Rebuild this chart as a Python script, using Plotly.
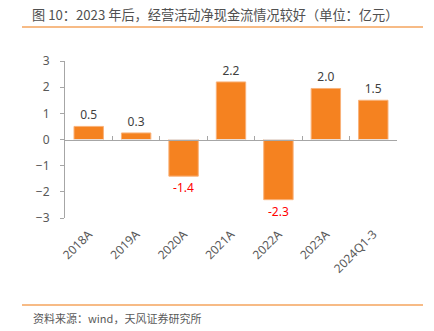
import plotly.graph_objects as go

categories = ["2018A", "2019A", "2020A", "2021A", "2022A", "2023A", "2024Q1-3"]
values = [0.5, 0.25, -1.4, 2.2, -2.3, 1.95, 1.5]
labels = ["0.5", "0.3", "-1.4", "2.2", "-2.3", "2.0", "1.5"]
y_ticks = [-3, -2, -1, 0, 1, 2, 3]

label_colors = ["#FF0000" if v < 0 else "#404040" for v in values]

W, H = 434, 331
L, R, T, B = 65, 37, 61, 113
pw, ph = W - L - R, H - T - B

def px_x(px):
    return (px - L) / pw

def px_y(py):
    return (H - B - py) / ph

fig = go.Figure()
fig.add_trace(go.Bar(
    x=categories, y=values, text=labels, textposition="outside",
    textfont=dict(color=label_colors, size=12, family="Noto Sans"),
    marker=dict(color="#F58220", line=dict(color="#F9B27A", width=1)),
    width=0.62, cliponaxis=False, showlegend=False,
))
# invisible trace to activate the zero-line axis
fig.add_trace(go.Bar(x=categories, y=[0] * len(categories), xaxis="x2",
                     showlegend=False, hoverinfo="skip", marker=dict(color="rgba(0,0,0,0)")))

fig.update_layout(
    width=W, height=H, margin=dict(l=L, r=R, t=T, b=B),
    paper_bgcolor="white", plot_bgcolor="white",
    font=dict(family="Noto Sans CJK SC", color="#595959"),
    title=dict(text="图 10：2023 年后，经营活动净现金流情况较好（单位：亿元）",
               x=32 / W, xanchor="left", y=1 - 15 / H, yanchor="middle",
               font=dict(size=13.2, color="#505050", family="Noto Sans CJK SC")),
    xaxis=dict(type="category", range=[-0.5, 6.5], showline=False, ticks="",
               tickangle=-45, tickfont=dict(size=12, color="#595959", family="Noto Sans"),
               showgrid=False, zeroline=False, ticklabelstandoff=6),
    xaxis2=dict(type="category", range=[-0.5, 6.5], overlaying="x", anchor="free",
                position=0.5, side="bottom", showline=True, linecolor="#A6A6A6",
                linewidth=1, ticks="inside", ticklen=4, tickcolor="#A6A6A6",
                tickson="boundaries", showticklabels=False, showgrid=False, zeroline=False),
    yaxis=dict(range=[-3, 3], tickvals=y_ticks, showline=True, linecolor="#A6A6A6",
               linewidth=1, ticks="outside", ticklen=4, tickcolor="#A6A6A6",
               tickfont=dict(size=12, color="#595959", family="Noto Sans"),
               showgrid=False, zeroline=False, ticklabelstandoff=8),
    shapes=[
        dict(type="line", xref="paper", yref="paper", x0=px_x(22), x1=px_x(423),
             y0=px_y(27), y1=px_y(27), line=dict(color="#F5A45E", width=1.5)),
        dict(type="line", xref="paper", yref="paper", x0=px_x(22), x1=px_x(423),
             y0=px_y(305), y1=px_y(305), line=dict(color="#F5A45E", width=1.5)),
    ],
    annotations=[
        dict(text="资料来源：wind，天风证券研究所", xref="paper", yref="paper",
             x=px_x(31), y=px_y(318), xanchor="left", yanchor="middle", showarrow=False,
             font=dict(size=11, color="#595959", family="Noto Sans CJK SC")),
    ],
    bargap=0.38,
)

fig.write_html("out.html")
